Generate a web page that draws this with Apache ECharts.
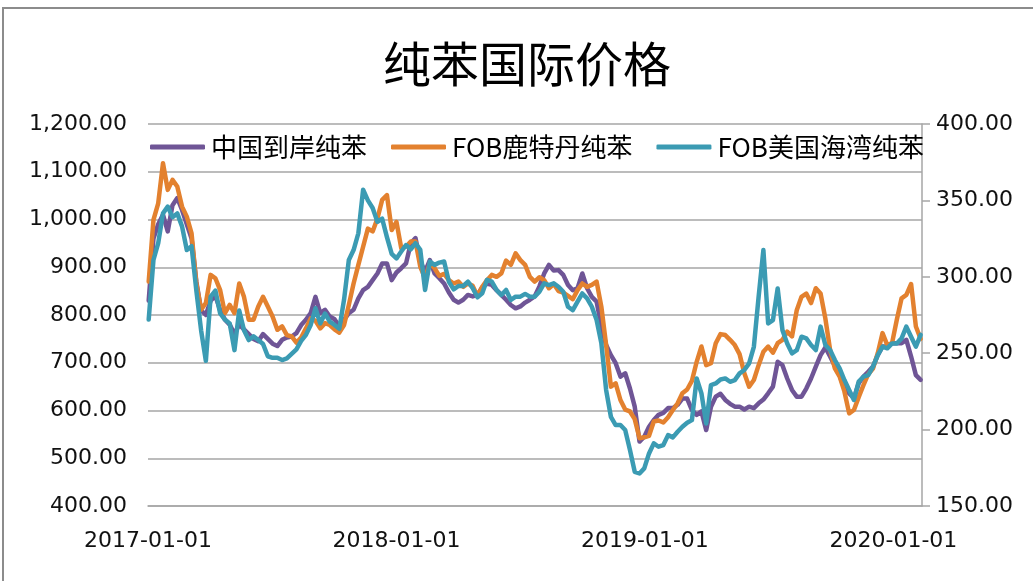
<!DOCTYPE html>
<html><head><meta charset="utf-8">
<script src="https://cdn.jsdelivr.net/npm/echarts@6/dist/echarts.min.js"></script>
<style>html,body{margin:0;padding:0;background:#fff}#c{width:1033px;height:581px}</style>
</head><body><div id="c"></div><script>
const titleText = '纯苯国际价格';
const seriesNames = ['中国到岸纯苯', 'FOB鹿特丹纯苯', 'FOB美国海湾纯苯'];
const xTickDates = ['2017-01-01', '2018-01-01', '2019-01-01', '2020-01-01'];
const xEndDate = '2020-02-12';
const leftTicks = [400, 500, 600, 700, 800, 900, 1000, 1100, 1200];
const rightTicks = [150, 200, 250, 300, 350, 400];

const weeks = [
'2017-01-02','2017-01-09','2017-01-16','2017-01-23','2017-01-30','2017-02-06','2017-02-13','2017-02-20','2017-02-27','2017-03-06',
'2017-03-13','2017-03-20','2017-03-27','2017-04-03','2017-04-10','2017-04-17','2017-04-24','2017-05-01','2017-05-08','2017-05-15',
'2017-05-22','2017-05-29','2017-06-05','2017-06-12','2017-06-19','2017-06-26','2017-07-03','2017-07-10','2017-07-17','2017-07-24',
'2017-07-31','2017-08-07','2017-08-14','2017-08-21','2017-08-28','2017-09-04','2017-09-11','2017-09-18','2017-09-25','2017-10-02',
'2017-10-09','2017-10-16','2017-10-23','2017-10-30','2017-11-06','2017-11-13','2017-11-20','2017-11-27','2017-12-04','2017-12-11',
'2017-12-18','2017-12-25','2018-01-01','2018-01-08','2018-01-15','2018-01-22','2018-01-29','2018-02-05','2018-02-12','2018-02-19',
'2018-02-26','2018-03-05','2018-03-12','2018-03-19','2018-03-26','2018-04-02','2018-04-09','2018-04-16','2018-04-23','2018-04-30',
'2018-05-07','2018-05-14','2018-05-21','2018-05-28','2018-06-04','2018-06-11','2018-06-18','2018-06-25','2018-07-02','2018-07-09',
'2018-07-16','2018-07-23','2018-07-30','2018-08-06','2018-08-13','2018-08-20','2018-08-27','2018-09-03','2018-09-10','2018-09-17',
'2018-09-24','2018-10-01','2018-10-08','2018-10-15','2018-10-22','2018-10-29','2018-11-05','2018-11-12','2018-11-19','2018-11-26',
'2018-12-03','2018-12-10','2018-12-17','2018-12-24','2018-12-31','2019-01-07','2019-01-14','2019-01-21','2019-01-28','2019-02-04',
'2019-02-11','2019-02-18','2019-02-25','2019-03-04','2019-03-11','2019-03-18','2019-03-25','2019-04-01','2019-04-08','2019-04-15',
'2019-04-22','2019-04-29','2019-05-06','2019-05-13','2019-05-20','2019-05-27','2019-06-03','2019-06-10','2019-06-17','2019-06-24',
'2019-07-01','2019-07-08','2019-07-15','2019-07-22','2019-07-29','2019-08-05','2019-08-12','2019-08-19','2019-08-26','2019-09-02',
'2019-09-09','2019-09-16','2019-09-23','2019-09-30','2019-10-07','2019-10-14','2019-10-21','2019-10-28','2019-11-04','2019-11-11',
'2019-11-18','2019-11-25','2019-12-02','2019-12-09','2019-12-16','2019-12-23','2019-12-30','2020-01-06','2020-01-13','2020-01-20',
'2020-01-27','2020-02-03','2020-02-10'
];

const chinaCFR = [
830,960,990,1010,975,1030,1045,1020,990,960,
870,810,800,830,840,810,790,780,760,780,
770,760,750,745,760,750,740,735,748,753,
755,762,779,790,804,838,804,811,797,791,
776,790,804,811,835,852,859,873,887,908,
908,873,889,898,908,950,961,912,891,915,
887,877,866,847,832,826,832,842,839,842,
858,866,863,852,842,832,821,814,818,826,
832,839,860,887,905,893,894,884,863,852,
856,887,856,838,828,776,737,716,699,671,
678,646,608,535,545,566,580,591,595,605,
605,612,625,625,601,591,598,559,608,629,
635,622,614,608,608,602,608,605,615,623,
636,650,702,695,667,643,629,629,646,667,
692,716,732,713,693,674,646,636,626,657,
671,681,692,716,734,734,741,741,741,748,
713,674,664
];

const fobRotterdam = [
870,999,1034,1118,1062,1083,1069,1027,1006,971,
866,811,825,884,877,852,804,821,804,866,
838,790,790,818,838,818,797,769,776,758,
755,742,753,772,793,788,772,783,779,770,
763,779,821,866,905,943,981,975,1002,1041,
1051,978,995,940,943,954,954,901,877,908,
898,882,886,873,866,870,859,866,861,840,
859,873,884,880,887,914,905,929,915,905,
880,870,879,873,856,865,850,847,840,833,
852,866,859,863,870,817,737,650,657,622,
602,598,582,542,544,547,577,579,575,586,
601,615,636,644,662,702,734,695,699,741,
760,758,748,737,718,678,650,664,695,723,
734,721,741,748,765,755,810,838,845,825,
856,845,793,727,688,671,640,594,601,628,
653,676,688,720,762,737,741,790,835,842,
865,776,750
];

const fobUSGulf = [
272,311,322,341.5,346,339,341.5,333,317.5,320,
291,265,245,287,291,276,272,269.5,252,278,
265,258.6,261,258.6,256,248,247,247,245.5,246.6,
249.5,252.5,258,262,268.5,279.4,269.5,276,270.6,268.5,
266,285,311,317.5,328.5,357,350,345,336,338,
326,315,312,316.5,320.8,318,322,317.6,291.4,310,
307.8,309.3,310,296.8,291.8,294,294,296.8,292.5,286.6,
289.2,298,296.8,291.4,288.1,291.4,284.8,287,287,288.8,
287,287,290.3,295.7,294.6,295.7,293.5,290.2,280.4,278.2,
283.7,289.1,285.9,280.4,271.7,256.4,225.9,208.4,203,203,
199.7,186.6,172.4,171.3,174.6,184.4,191,188.8,189.9,196.4,
194.9,198.6,201.9,204.5,206.2,233.5,223.7,204,229.1,230.2,
232.8,233.5,231.3,232.4,236.8,239,243.3,254.2,287,317.5,
269.5,271.7,292.4,265.1,256.4,249.9,252,260.8,259.7,255.4,
252.1,267.4,255.4,252.1,245.5,240.1,232.4,225.9,219.4,231.4,
234.6,235.7,241.2,248.8,254.3,253.2,256.4,256.4,259.7,267.4,
260.8,254.3,262
];

const colors = ['#6f5596', '#e3812f', '#3b9bb3'];
const toTs = d => Date.parse(d + 'T00:00:00Z');
const pairs = vals => weeks.map((d, i) => [toTs(d), vals[i]]);
const xMin = toTs(xTickDates[0]);
const xInterval = toTs(xTickDates[1]) - toTs(xTickDates[0]);
const gridColor = '#a6a6a6';
const labelFont = {fontFamily: 'DejaVu Sans', fontSize: 22, color: '#111'};

const chart = echarts.init(document.getElementById('c'), null, {renderer: 'canvas'});
chart.setOption({
  animation: false,
  backgroundColor: '#fff',
  color: colors,
  title: {
    text: titleText, left: 378, top: 33,
    textStyle: {fontFamily: 'Noto Sans CJK SC', fontSize: 48, fontWeight: 'normal', color: '#000', lineHeight: 52}
  },
  graphic: [{
    type: 'rect', silent: true, z: -1,
    shape: {x: 3, y: 8, width: 1100, height: 700},
    style: {fill: 'none', stroke: '#8c8c8c', lineWidth: 2}
  }],
  legend: {
    data: seriesNames, left: 150, top: 134, padding: 0,
    itemWidth: 55, itemHeight: 5, itemGap: 24, icon: 'roundRect',
    textStyle: {fontFamily: 'Noto Sans CJK SC', fontSize: 26, color: '#000', padding: [0, 0, 0, 1]}
  },
  grid: {left: 148, right: 111, top: 124, bottom: 75, containLabel: false},
  xAxis: {
    type: 'value', min: xMin, max: toTs(xEndDate), interval: xInterval,
    axisLine: {show: true, lineStyle: {color: gridColor, width: 1.5}},
    axisTick: {show: false},
    splitLine: {show: false},
    axisLabel: Object.assign({}, labelFont, {
      margin: 24, showMaxLabel: false,
      formatter: v => new Date(v).toISOString().slice(0, 10)
    })
  },
  yAxis: [{
    type: 'value', min: leftTicks[0], max: leftTicks[leftTicks.length - 1], interval: leftTicks[1] - leftTicks[0],
    axisLine: {show: false}, axisTick: {show: false},
    splitLine: {show: true, lineStyle: {color: gridColor, width: 1.5}},
    axisLabel: Object.assign({}, labelFont, {
      margin: 21,
      formatter: v => v.toLocaleString('en-US', {minimumFractionDigits: 2, maximumFractionDigits: 2})
    })
  }, {
    type: 'value', min: rightTicks[0], max: rightTicks[rightTicks.length - 1], interval: rightTicks[1] - rightTicks[0],
    position: 'right',
    axisLine: {show: true, lineStyle: {color: gridColor, width: 1.5}},
    axisTick: {show: true, length: 8, lineStyle: {color: gridColor, width: 1.5}},
    splitLine: {show: false},
    axisLabel: Object.assign({}, labelFont, {margin: 14, formatter: v => v.toFixed(2)})
  }],
  series: [
    {name: seriesNames[0], type: 'line', yAxisIndex: 0, data: pairs(chinaCFR), showSymbol: false, symbol: 'none',
     lineStyle: {width: 4.5, color: colors[0], cap: 'round', join: 'round'}},
    {name: seriesNames[1], type: 'line', yAxisIndex: 0, data: pairs(fobRotterdam), showSymbol: false, symbol: 'none',
     lineStyle: {width: 4.5, color: colors[1], cap: 'round', join: 'round'}},
    {name: seriesNames[2], type: 'line', yAxisIndex: 1, data: pairs(fobUSGulf), showSymbol: false, symbol: 'none',
     lineStyle: {width: 4.5, color: colors[2], cap: 'round', join: 'round'}}
  ]
});
</script></body></html>
